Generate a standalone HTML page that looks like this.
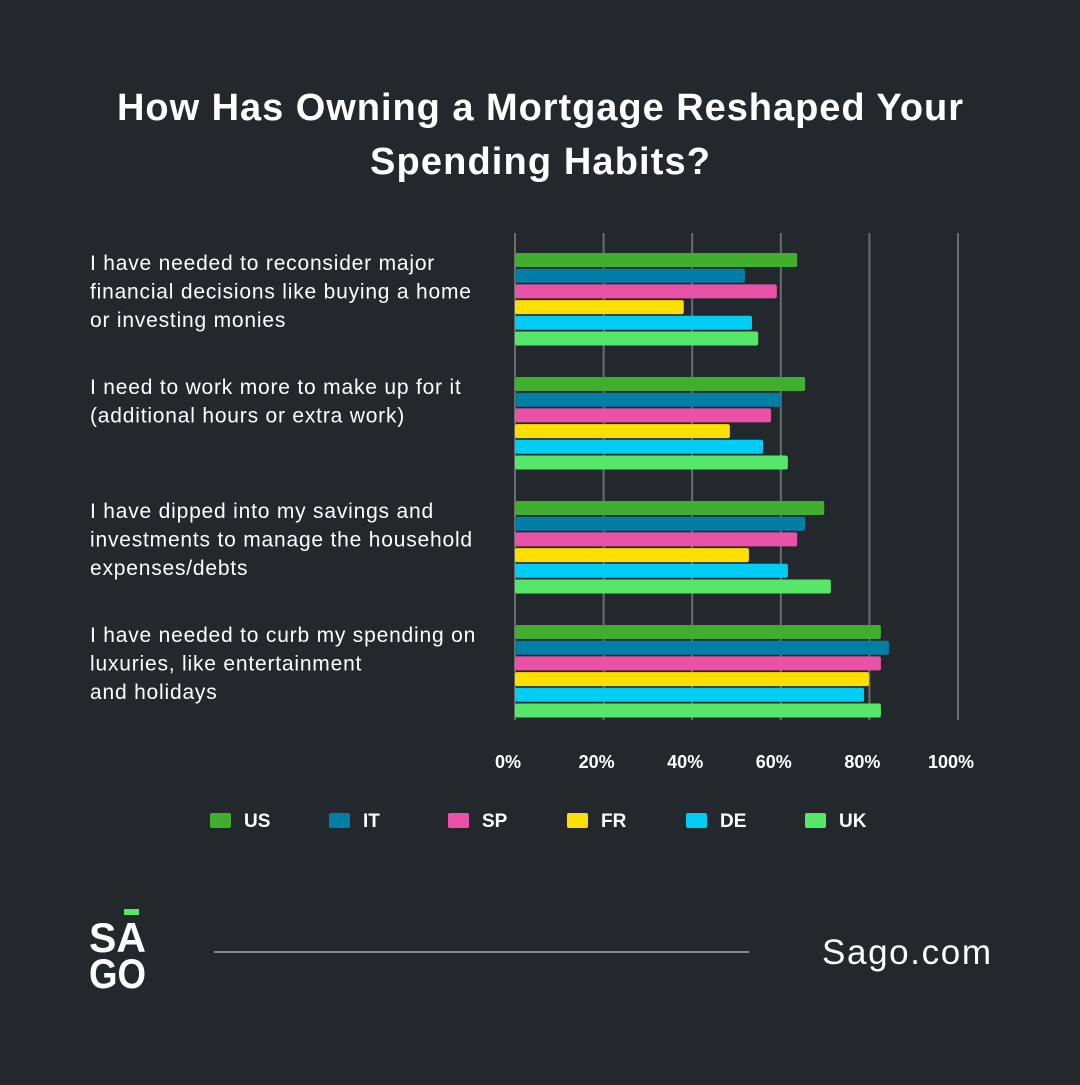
<!DOCTYPE html>
<html><head><meta charset="utf-8"><style>
body{margin:0;background:#22282b;width:1080px;height:1080px;overflow:hidden;font-family:"Liberation Sans",sans-serif;color:#fff}
</style></head><body>
<svg width="1080" height="1080" id="svg">
<rect width="1080" height="1080" fill="#22282b"/>
<text x="540" y="120" text-anchor="middle" font-size="38" font-weight="bold" fill="#fff" textLength="846">How Has Owning a Mortgage Reshaped Your</text>
<text x="540" y="174" text-anchor="middle" font-size="38" font-weight="bold" fill="#fff" textLength="340">Spending Habits?</text>
<g id="grid"></g><g id="bars"></g><g id="labels"></g><g id="ticks"></g><g id="legend"></g>
<rect x="124" y="909" width="15" height="6" fill="#55e66a"/>
<text x="89" y="952" font-size="42" font-weight="bold" fill="#fff" textLength="57" lengthAdjust="spacingAndGlyphs">SA</text>
<text x="89" y="988" font-size="42" font-weight="bold" fill="#fff" textLength="57" lengthAdjust="spacingAndGlyphs">GO</text>
<line x1="214" y1="952" x2="749" y2="952" stroke="#888" stroke-width="2"/>
<text x="822" y="964" font-size="35" fill="#fff" textLength="169">Sago.com</text>
</svg>
<script>
const categories=[["I have needed to reconsider major","financial decisions like buying a home","or investing monies"],["I need to work more to make up for it","(additional hours or extra work)"],["I have dipped into my savings and","investments to manage the household","expenses/debts"],["I have needed to curb my spending on","luxuries, like entertainment","and holidays"]];
const seriesNames=["US","IT","SP","FR","DE","UK"];
const US=[63.7,65.5,69.8,82.6];
const IT=[51.9,60,65.5,84.4];
const SP=[59.1,57.8,63.7,82.6];
const FR=[38.1,48.5,52.8,79.9];
const DE=[53.5,56,61.6,78.8];
const UK=[54.9,61.6,71.3,82.6];
const tickLabels=["0%","20%","40%","60%","80%","100%"];
const ticks=[0,20,40,60,80,100];
const series=[US,IT,SP,FR,DE,UK];
const colors=["#41ae2e","#007ea6","#e952a7","#ffdf00","#00cdf4","#55e66a"];
const NS="http://www.w3.org/2000/svg";
const x=v=>515+v*4.43;
function mk(t,a,p){const e=document.createElementNS(NS,t);for(const k in a)e.setAttribute(k,a[k]);document.getElementById(p).appendChild(e);return e;}
ticks.forEach((t,i)=>{
 const l=mk('line',{x1:x(t),x2:x(t),y1:233,y2:720,stroke:'#6a6d6f','stroke-width':2},'grid');
 
 
 const tx=mk('text',{x:x(t)-7,y:768,'text-anchor':'middle','font-size':18,fill:'#fff','font-weight':'bold'},'ticks');
 tx.textContent=tickLabels[i];
 
 
});
categories.forEach((c,g)=>{
 series.forEach((s,j)=>{
  const r=mk('rect',{x:515,y:253+g*124+j*15.7,width:x(s[g])-515,height:14,rx:2,fill:colors[j]},'bars');
  
  
 });
 c.forEach((line,k)=>{
  const t=mk('text',{x:90,y:270+g*124+k*28.5,'font-size':21,fill:'#fff','letter-spacing':0.8},'labels');
  t.textContent=line;
  
  
 });
});
seriesNames.forEach((n,j)=>{
 const lx=210+j*119;
 const r=mk('rect',{x:lx,y:813,width:21,height:15,rx:2,fill:colors[j]},'legend');
 
 
 const t=mk('text',{x:lx+34,y:827,'font-size':19,fill:'#fff','font-weight':'bold'},'legend');
 t.textContent=n;
 
 
});
</script>
</body></html>
